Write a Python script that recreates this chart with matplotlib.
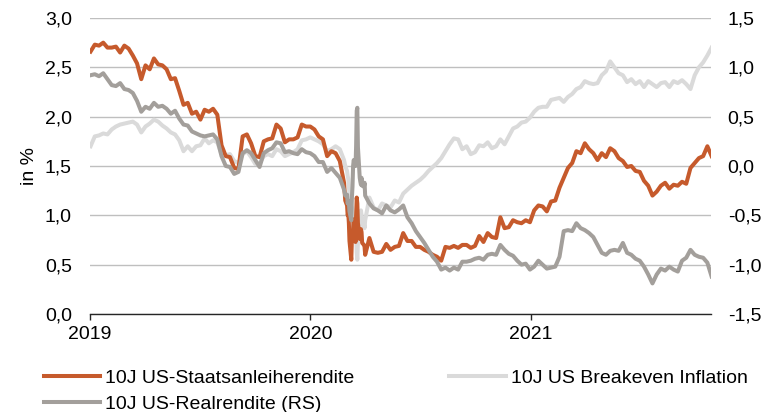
import matplotlib.pyplot as plt
import matplotlib.dates as mdates
import matplotlib.ticker as mticker
import pandas as pd

# Zeitachsen: Wochenwerte (mittwochs) bis Ende Feb 2020,
# Tageswerte rund um den Corona-Schock, danach wieder Wochenwerte
start_a = '2019-01-02'
crisis_days = ['2020-02-28', '2020-03-02', '2020-03-03', '2020-03-04', '2020-03-05',
               '2020-03-06', '2020-03-09', '2020-03-10', '2020-03-11', '2020-03-12',
               '2020-03-13', '2020-03-16', '2020-03-17', '2020-03-18', '2020-03-19',
               '2020-03-20', '2020-03-23', '2020-03-24', '2020-03-25', '2020-03-26',
               '2020-03-27', '2020-03-30', '2020-03-31']
start_b = '2020-04-01'

# 10J US-Staatsanleiherendite (linke Achse, in %)
yield_a = [2.66, 2.73, 2.72, 2.75, 2.70, 2.70, 2.71, 2.65, 2.72,
           2.69, 2.62, 2.54, 2.38, 2.52, 2.48, 2.59, 2.53,
           2.52, 2.48, 2.38, 2.39, 2.26, 2.12, 2.14, 2.03, 2.05,
           1.97, 2.07, 2.05, 2.08, 2.02, 1.71, 1.60, 1.59, 1.48,
           1.47, 1.80, 1.82, 1.73, 1.60, 1.59, 1.75, 1.77, 1.78,
           1.92, 1.88, 1.74, 1.77, 1.77, 1.79, 1.92, 1.90,
           1.90, 1.87, 1.80, 1.77, 1.60, 1.65, 1.63, 1.55, 1.33]
yield_crisis = [1.15, 1.10, 1.00, 1.02, 0.92, 0.74, 0.55, 0.76, 0.82, 0.86, 0.96,
                0.73, 1.00, 1.18, 1.12, 0.92, 0.76, 0.84, 0.86, 0.83, 0.72, 0.70, 0.68]
yield_b = [0.60, 0.77, 0.63, 0.62, 0.63, 0.71, 0.65, 0.68, 0.69,
           0.82, 0.74, 0.74, 0.68, 0.68, 0.65, 0.63, 0.60, 0.58,
           0.54, 0.68, 0.67, 0.69, 0.67, 0.70, 0.70, 0.67, 0.69,
           0.79, 0.73, 0.82, 0.78, 0.77, 0.98, 0.87, 0.88,
           0.95, 0.93, 0.92, 0.95, 0.93,
           1.05, 1.10, 1.09, 1.04, 1.14, 1.15, 1.28, 1.38,
           1.48, 1.53, 1.65, 1.63, 1.73, 1.67, 1.63, 1.56, 1.63,
           1.59, 1.68, 1.65, 1.58, 1.55, 1.49, 1.50, 1.45, 1.44,
           1.35, 1.30, 1.20, 1.24, 1.30, 1.33, 1.27, 1.31,
           1.30, 1.34, 1.32, 1.48, 1.53, 1.58, 1.60, 1.70, 1.60]

# 10J US Breakeven Inflation (linke Achse, in %)
bei_a = [1.70, 1.80, 1.81, 1.83, 1.82, 1.87, 1.90, 1.92, 1.93,
         1.94, 1.95, 1.92, 1.84, 1.90, 1.93, 1.97, 1.95,
         1.91, 1.88, 1.84, 1.82, 1.76, 1.65, 1.70, 1.65, 1.70,
         1.71, 1.78, 1.73, 1.76, 1.74, 1.62, 1.61, 1.62, 1.55,
         1.53, 1.62, 1.65, 1.59, 1.52, 1.53, 1.60, 1.62, 1.60,
         1.67, 1.65, 1.60, 1.62, 1.64, 1.67, 1.76, 1.77,
         1.79, 1.77, 1.75, 1.72, 1.65, 1.67, 1.70, 1.67, 1.56]
bei_crisis = [1.50, 1.45, 1.40, 1.37, 1.30, 1.20, 1.09, 1.08, 1.03, 0.88, 0.90,
              0.73, 0.80, 0.62, 0.55, 0.73, 0.88, 1.00, 1.05, 1.00, 0.92, 0.91, 0.87]
bei_b = [0.95, 1.18, 1.08, 1.05, 1.12, 1.10, 1.08, 1.15, 1.13,
         1.22, 1.26, 1.30, 1.33, 1.36, 1.40, 1.45, 1.49, 1.53,
         1.58, 1.65, 1.72, 1.78, 1.77, 1.67, 1.70, 1.62, 1.64,
         1.71, 1.70, 1.74, 1.68, 1.70, 1.77, 1.72, 1.80,
         1.88, 1.90, 1.94, 1.95, 1.99,
         2.05, 2.09, 2.10, 2.10, 2.17, 2.18, 2.19, 2.15,
         2.20, 2.23, 2.28, 2.30, 2.36, 2.34, 2.33, 2.34, 2.42,
         2.46, 2.56, 2.50, 2.44, 2.42, 2.35, 2.38, 2.33, 2.36,
         2.30, 2.36, 2.33, 2.30, 2.34, 2.35, 2.30, 2.36,
         2.34, 2.37, 2.33, 2.28, 2.42, 2.50, 2.55, 2.62, 2.70]

# 10J US-Realrendite (rechte Achse, in %)
real_a = [0.92, 0.93, 0.91, 0.94, 0.88, 0.82, 0.81, 0.84, 0.78,
          0.77, 0.74, 0.66, 0.55, 0.60, 0.58, 0.64, 0.60,
          0.61, 0.58, 0.53, 0.56, 0.48, 0.42, 0.41, 0.35, 0.33,
          0.31, 0.30, 0.31, 0.32, 0.27, 0.10, 0.00, -0.01, -0.08,
          -0.06, 0.13, 0.16, 0.13, 0.06, -0.01, 0.13, 0.16, 0.18,
          0.24, 0.23, 0.14, 0.15, 0.13, 0.12, 0.17, 0.14,
          0.13, 0.10, 0.04, 0.04, -0.06, -0.02, -0.07, -0.12, -0.24]
real_crisis = [-0.30, -0.29, -0.38, -0.35, -0.38, -0.46, -0.55, -0.32, -0.21, 0.00, 0.06,
               0.00, 0.20, 0.56, 0.59, 0.19, -0.12, -0.16, -0.19, -0.12, -0.20, -0.21, -0.17]
real_b = [-0.30, -0.38, -0.43, -0.45, -0.48, -0.40, -0.45, -0.47, -0.44,
          -0.40, -0.52, -0.58, -0.66, -0.72, -0.78, -0.85, -0.92, -0.97,
          -1.05, -1.03, -1.06, -1.03, -1.05, -0.97, -0.97, -0.96, -0.94,
          -0.93, -0.95, -0.90, -0.89, -0.90, -0.80, -0.85, -0.89,
          -0.91, -0.96, -1.00, -0.99, -1.05,
          -1.02, -0.96, -1.00, -1.04, -1.03, -1.02, -0.92, -0.66,
          -0.65, -0.66, -0.58, -0.63, -0.65, -0.68, -0.72, -0.80, -0.88,
          -0.90, -0.86, -0.85, -0.86, -0.78, -0.88, -0.90, -0.94, -0.96,
          -1.02, -1.10, -1.19, -1.10, -1.04, -1.06, -1.02, -1.05,
          -1.07, -0.96, -0.93, -0.85, -0.90, -0.92, -0.93, -0.98, -1.12]

labels = ['10J US-Staatsanleiherendite', '10J US Breakeven Inflation', '10J US-Realrendite (RS)']
colors = ['#C65A2C', '#DADADA', '#A39F9B']


def build(a, crisis, b):
    # die drei Abschnitte zu einer Zeitreihe zusammensetzen
    s_a = pd.Series(a, index=pd.date_range(start_a, periods=len(a), freq='7D'))
    s_c = pd.Series(crisis, index=pd.to_datetime(crisis_days))
    s_b = pd.Series(b, index=pd.date_range(start_b, periods=len(b), freq='7D'))
    return pd.concat([s_a, s_c, s_b])


yld = build(yield_a, yield_crisis, yield_b)
bei = build(bei_a, bei_crisis, bei_b)
real = build(real_a, real_crisis, real_b)

plt.rcParams['font.family'] = ['Liberation Sans', 'DejaVu Sans']
fs = 14
lw = 2.9

fig = plt.figure(figsize=(7.65, 4.12), dpi=100)
ax = fig.add_axes([0.1176, 0.2379, 0.8118, 0.7184])
ax2 = ax.twinx()

h_bei, = ax.plot(bei.index, bei.values, color=colors[1], lw=lw, label=labels[1])
h_yld, = ax.plot(yld.index, yld.values, color=colors[0], lw=lw, label=labels[0])
h_real, = ax2.plot(real.index, real.values, color=colors[2], lw=lw, label=labels[2])

comma = mticker.FuncFormatter(lambda v, p: f'{v:.1f}'.replace('.', ','))

ax.set_ylim(0, 3)
ax.set_yticks([0, 0.5, 1, 1.5, 2, 2.5, 3])
ax.yaxis.set_major_formatter(comma)
ax2.set_ylim(-1.5, 1.5)
ax2.set_yticks([-1.5, -1, -0.5, 0, 0.5, 1, 1.5])
ax2.yaxis.set_major_formatter(comma)

ax.set_xlim(pd.Timestamp('2019-01-01'), pd.Timestamp('2021-10-26'))
ax.xaxis.set_major_locator(mdates.YearLocator())
ax.xaxis.set_major_formatter(mdates.DateFormatter('%Y'))

ax.yaxis.grid(True, color='#BFBFBF', lw=1)
ax.set_axisbelow(True)

for s in ['left', 'right', 'top']:
    ax.spines[s].set_visible(False)
for s in ax2.spines.values():
    s.set_visible(False)
ax.spines['bottom'].set_color('#262626')
ax.spines['bottom'].set_linewidth(1)

ax.tick_params(axis='y', length=0, pad=13, labelsize=fs)
ax2.tick_params(axis='y', length=0, pad=12, labelsize=fs)
ax.tick_params(axis='x', length=4, width=1, color='#262626', pad=5, labelsize=fs)

ax.set_ylabel('in %', fontsize=fs, labelpad=5)

# Legende unter der Grafik, zwei Spalten
fig.legend([h_yld, h_real, h_bei], [labels[0], labels[2], labels[1]],
           ncol=2, loc='upper left', bbox_to_anchor=(0.057, 0.104),
           frameon=False, fontsize=fs, handlelength=2.9, handletextpad=0.25,
           columnspacing=4.9, labelspacing=0.45, borderaxespad=0, borderpad=0)

fig.savefig('out.png', dpi=100)
